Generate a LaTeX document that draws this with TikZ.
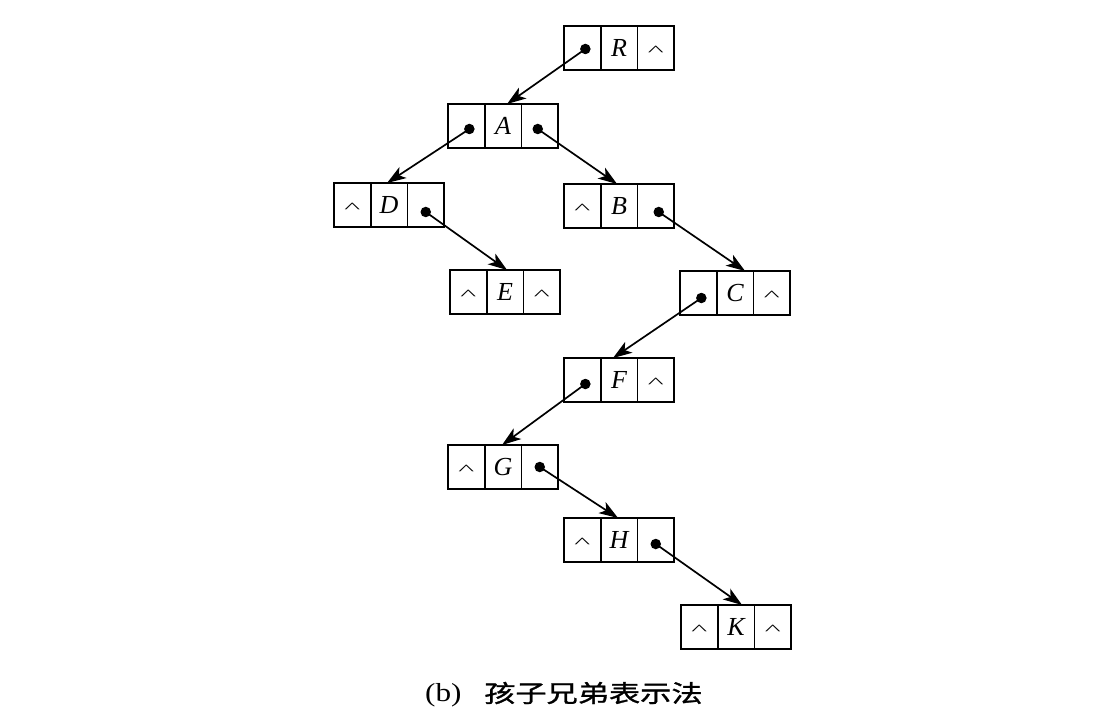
\documentclass[tikz,border=0pt]{standalone}
\usepackage{fontspec}
\setmainfont{Liberation Serif}
\newfontfamily\cjkfont[FakeStretch=1.3,FakeBold=1.2]{Noto Sans CJK SC}
\newfontfamily\capfont[FakeStretch=1.2]{Liberation Serif}
\usetikzlibrary{arrows.meta}
\tikzset{
  x=1pt, y=-1pt,
  cell/.style={draw, line width=1.8pt, minimum width=36.7pt, minimum height=44pt,
    inner sep=0pt, outer sep=0pt, font=\fontsize{26}{26}\selectfont\itshape},
  ptrdot/.style={circle, fill=black, inner sep=0pt, minimum size=10.5pt},
  ptr/.style={-{Stealth[length=19pt,width=13pt,inset=5pt]}, line width=1.7pt},
  caption/.style={inner sep=0pt}
}
\newcommand{\nilmark}{\upshape\raisebox{-0.27em}[0pt][0pt]{\scalebox{1.3}[0.55]{\textasciicircum}}}
\newcommand{\recbox}[6]{%
  \node[cell] (#1-1) at (#2+18.35,#3+22) {#4};
  \node[cell] (#1-2) at (#2+55.05,#3+22) {#5};
  \node[cell] (#1-3) at (#2+91.75,#3+22) {#6};
}
\begin{document}
\begin{tikzpicture}
\useasboundingbox (0,0) rectangle (1106,722);
\recbox{R}{564}{26}{}{R}{\nilmark}
\recbox{A}{448}{104}{}{A}{}
\recbox{D}{334}{183}{\nilmark}{D}{}
\recbox{B}{564}{184}{\nilmark}{B}{}
\recbox{E}{450}{270}{\nilmark}{E}{\nilmark}
\recbox{C}{680}{271}{}{C}{\nilmark}
\recbox{F}{564}{358}{}{F}{\nilmark}
\recbox{G}{448}{445}{\nilmark}{G}{}
\recbox{H}{564}{518}{\nilmark}{H}{}
\recbox{K}{681}{605}{\nilmark}{K}{\nilmark}
% pointer dots
\node[ptrdot] (dR) at ([shift={(3,1)}]R-1.center) {};
\node[ptrdot] (dA1) at ([shift={(3,3)}]A-1.center) {};
\node[ptrdot] (dA3) at ([shift={(-2,3)}]A-3.center) {};
\node[ptrdot] (dD) at ([shift={(0,7)}]D-3.center) {};
\node[ptrdot] (dB) at ([shift={(3,6)}]B-3.center) {};
\node[ptrdot] (dC) at ([shift={(3,5)}]C-1.center) {};
\node[ptrdot] (dF) at ([shift={(3,4)}]F-1.center) {};
\node[ptrdot] (dG) at ([shift={(0,0)}]G-3.center) {};
\node[ptrdot] (dH) at ([shift={(0,4)}]H-3.center) {};
% target points
\coordinate (tA) at ([shift={(4,0)}]A-2.north);
\coordinate (tD) at ([shift={(-2,0)}]D-2.north);
\coordinate (tB) at ([shift={(-2,0)}]B-2.north);
\coordinate (tE) at ([shift={(2,0)}]E-2.north);
\coordinate (tC) at ([shift={(10,0)}]C-2.north);
\coordinate (tF) at ([shift={(-6,0)}]F-2.north);
\coordinate (tG) at ([shift={(-1,0)}]G-2.north);
\coordinate (tH) at ([shift={(-1,0)}]H-2.north);
\coordinate (tK) at ([shift={(6,0)}]K-2.north);
\draw[ptr] (dR.center) -- (tA);
\draw[ptr] (dA1.center) -- (tD);
\draw[ptr] (dA3.center) -- (tB);
\draw[ptr] (dD.center) -- (tE);
\draw[ptr] (dB.center) -- (tC);
\draw[ptr] (dC.center) -- (tF);
\draw[ptr] (dF.center) -- (tG);
\draw[ptr] (dG.center) -- (tH);
\draw[ptr] (dH.center) -- (tK);
% caption
\node[caption, anchor=west, font=\fontsize{26}{26}\capfont] (capb) at (425,695) {(b)};
\node[caption, anchor=west, font=\fontsize{24}{24}\cjkfont] (capt) at (484,693) {孩子兄弟表示法};
\end{tikzpicture}
\end{document}
